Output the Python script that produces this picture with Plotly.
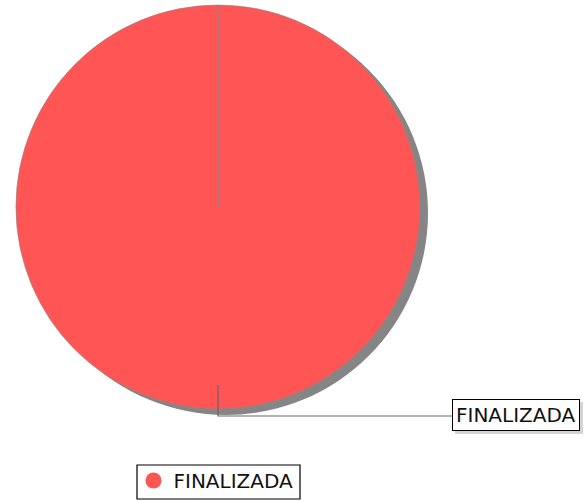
import plotly.graph_objects as go

labels = ["FINALIZADA"]
values = [100]
colors = ["#FF5555"]

W, H = 584, 501
def px(x): return x / W
def py(y): return 1 - y / H

cx, cy, r = 218, 207, 202
sdx, sdy = 8, 6

fig = go.Figure()
# shadow
fig.add_trace(go.Pie(labels=labels, values=values, sort=False,
                     marker=dict(colors=["#858585"], line=dict(width=0)),
                     textinfo="none", hoverinfo="skip", showlegend=False,
                     domain=dict(x=[px(cx + sdx - r), px(cx + sdx + r)],
                                 y=[py(cy + sdy + r), py(cy + sdy - r)])))
fig.add_trace(go.Pie(labels=labels, values=values, sort=False,
                     marker=dict(colors=colors, line=dict(color="#8a8a8a", width=0.6)),
                     textinfo="none", showlegend=False,
                     domain=dict(x=[px(cx - r), px(cx + r)],
                                 y=[py(cy + r), py(cy - r)])))
# legend entry with circle marker
fig.add_trace(go.Scatter(x=[None], y=[None], mode="markers", name=labels[0],
                         marker=dict(symbol="circle", size=16, color=colors[0])))

shapes = [
    dict(type="line", xref="paper", yref="paper", x0=px(cx), y0=py(cy - r), x1=px(cx), y1=py(cy),
         line=dict(color="#8a8a8a", width=1.2)),
    dict(type="path", xref="paper", yref="paper",
         path=f"M {px(cx)} {py(385)} L {px(cx)} {py(416)} L {px(452)} {py(416)}",
         line=dict(color="#666666", width=1.2)),
    dict(type="rect", xref="paper", yref="paper", x0=px(455), y0=py(434), x1=px(583), y1=py(402),
         fillcolor="#d4d4d4", line=dict(width=0), layer="below"),
    # legend frame
    dict(type="rect", xref="paper", yref="paper", x0=px(137), y0=py(499), x1=px(300), y1=py(465),
         fillcolor="white", line=dict(color="#000000", width=1.2), layer="above"),
]

fig.update_layout(
    width=W, height=H, margin=dict(l=0, r=0, t=0, b=0, autoexpand=False),
    paper_bgcolor="white", plot_bgcolor="white",
    font=dict(family="DejaVu Sans", size=20, color="#111111"),
    xaxis=dict(visible=False), yaxis=dict(visible=False),
    shapes=shapes,
    showlegend=True,
    legend=dict(x=px(216), y=py(461), xanchor="center", yanchor="top",
                orientation="h", borderwidth=0,
                bgcolor="rgba(0,0,0,0)", font=dict(size=20, family="DejaVu Sans")),
    annotations=[dict(xref="paper", yref="paper", x=px(452), y=py(415), xanchor="left", yanchor="middle",
                      text="FINALIZADA", showarrow=False, bordercolor="#000000", borderwidth=1,
                      borderpad=3, bgcolor="white", font=dict(size=20, family="DejaVu Sans"))],
)

fig.write_html("out.html", config={"displayModeBar": False},
               post_script="document.body.style.margin='0';")
